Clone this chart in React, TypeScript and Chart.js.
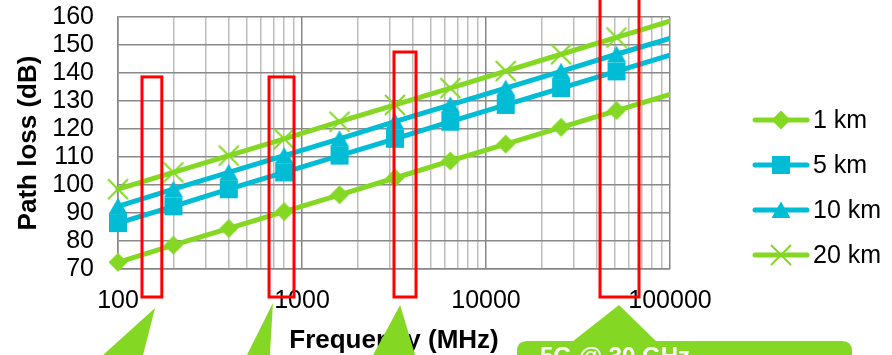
import React, { useEffect, useRef } from 'react';
import { Chart, registerables } from 'chart.js';

Chart.register(...registerables);

// ---- data ----
const frequencies = [100, 200, 400, 800, 1600, 3200, 6400, 12800, 25600, 51200, 100000];
const seriesNames = ['1 km', '5 km', '10 km', '20 km'];
const loss1km = [72.4, 78.5, 84.5, 90.5, 96.5, 102.5, 108.6, 114.6, 120.6, 126.6, 132.4];
const loss5km = [86.4, 92.4, 98.5, 104.5, 110.5, 116.5, 122.6, 128.6, 134.6, 140.6, 146.4];
const loss10km = [92.4, 98.5, 104.5, 110.5, 116.5, 122.6, 128.6, 134.6, 140.6, 146.7, 152.4];
const loss20km = [98.5, 104.5, 110.5, 116.5, 122.6, 128.6, 134.6, 140.7, 146.7, 152.7, 158.5];

const xTickValues = [
  100, 200, 300, 400, 500, 600, 700, 800, 900,
  1000, 2000, 3000, 4000, 5000, 6000, 7000, 8000, 9000,
  10000, 20000, 30000, 40000, 50000, 60000, 70000, 80000, 90000,
  100000,
];
const xTickLabels = ['100', '1000', '10000', '100000'];
const yMin = 70;
const yMax = 160;
const yStep = 10;

// highlighted frequency bands (MHz) and the dB level of their top edge
const bandLowMHz = [135, 662, 3162, 41650];
const bandHighMHz = [173, 905, 4165, 67850];
const bandTopDb = [138.6, 138.6, 147.5, 172];
// callout pointer tips (MHz)
const calloutTipMHz = [159, 695, 3414, 52800];
const calloutText = '5G @ 30 GHz';

const GREEN = '#84D824';
const CYAN = '#00BCD4';
const FONT = "'Liberation Sans', Arial, Helvetica, sans-serif";

type MarkerKind = 'diamond' | 'square' | 'triangle' | 'cross';

function makeMarker(kind: MarkerKind, color: string): HTMLCanvasElement {
  const c = document.createElement('canvas');
  const s = 24;
  c.width = s;
  c.height = s;
  const g = c.getContext('2d')!;
  g.fillStyle = color;
  g.strokeStyle = color;
  const m = s / 2;
  g.beginPath();
  if (kind === 'diamond') {
    g.moveTo(m, m - 9.5);
    g.lineTo(m + 9.5, m);
    g.lineTo(m, m + 9.5);
    g.lineTo(m - 9.5, m);
    g.closePath();
    g.fill();
  } else if (kind === 'square') {
    g.rect(m - 9, m - 9, 18, 18);
    g.fill();
  } else if (kind === 'triangle') {
    g.moveTo(m, m - 8.5);
    g.lineTo(m + 9.5, m + 8);
    g.lineTo(m - 9.5, m + 8);
    g.closePath();
    g.fill();
  } else {
    g.lineWidth = 2;
    g.moveTo(m - 10, m - 10);
    g.lineTo(m + 10, m + 10);
    g.moveTo(m + 10, m - 10);
    g.lineTo(m - 10, m + 10);
    g.stroke();
  }
  return c;
}

function isDecade(v: number) {
  const l = Math.log10(v);
  return Math.abs(l - Math.round(l)) < 1e-9;
}

export default function App() {
  const ref = useRef<HTMLCanvasElement | null>(null);

  useEffect(() => {
    if (!ref.current) return;
    const series = [loss1km, loss5km, loss10km, loss20km];
    const colors = [GREEN, CYAN, CYAN, GREEN];
    const kinds: MarkerKind[] = ['diamond', 'square', 'triangle', 'cross'];
    const markers = kinds.map((k, i) => makeMarker(k, colors[i]));
    const lastIdx = frequencies.length - 1;

    const datasets = series.map((vals, i) => ({
      label: seriesNames[i],
      data: frequencies.map((f, j) => ({ x: f, y: vals[j] })),
      borderColor: colors[i],
      backgroundColor: colors[i],
      borderWidth: 5,
      borderCapStyle: 'round' as const,
      borderJoinStyle: 'round' as const,
      pointStyle: markers[i],
      pointRadius: (ctx: any) => (ctx.dataIndex === lastIdx ? 0 : 9),
      pointHoverRadius: (ctx: any) => (ctx.dataIndex === lastIdx ? 0 : 9),
      tension: 0,
      order: 4 - i,
      clip: { left: 14, right: 0, top: 14, bottom: 14 },
    }));

    const overlay = {
      id: 'overlay',
      afterDraw(chart: any) {
        const { ctx, chartArea, scales } = chart;
        const xs = scales.x;
        const ys = scales.y;
        ctx.save();
        // red band rectangles
        ctx.strokeStyle = '#FF0000';
        ctx.lineWidth = 3;
        ctx.lineJoin = 'miter';
        const bandBottom = chartArea.bottom + 28;
        for (let i = 0; i < bandLowMHz.length; i++) {
          const x0 = xs.getPixelForValue(bandLowMHz[i]);
          const x1 = xs.getPixelForValue(bandHighMHz[i]);
          const y0 = ys.getPixelForValue(bandTopDb[i]);
          ctx.strokeRect(x0, y0, x1 - x0, bandBottom - y0);
        }
        // green callout pointers
        ctx.fillStyle = GREEN;
        const H = chart.height;
        const tipOff = [39, 34, 36, 36];
        const baseL = [-52, -26, -27, -47];
        const baseR = [-12, -3, 15, 38];
        for (let i = 0; i < calloutTipMHz.length; i++) {
          const tx = xs.getPixelForValue(calloutTipMHz[i]);
          const ty = chartArea.bottom + tipOff[i];
          const by = i === 3 ? chartArea.bottom + 73 : H;
          ctx.beginPath();
          ctx.moveTo(tx, ty);
          ctx.lineTo(tx + baseR[i], by);
          ctx.lineTo(tx + baseL[i], by);
          ctx.closePath();
          ctx.fill();
        }
        // 5G callout box
        const bx = 517;
        const by = chartArea.bottom + 72;
        const bw = 335;
        const bh = 80;
        const r = 10;
        ctx.beginPath();
        ctx.moveTo(bx + r, by);
        ctx.lineTo(bx + bw - r, by);
        ctx.quadraticCurveTo(bx + bw, by, bx + bw, by + r);
        ctx.lineTo(bx + bw, by + bh);
        ctx.lineTo(bx, by + bh);
        ctx.lineTo(bx, by + r);
        ctx.quadraticCurveTo(bx, by, bx + r, by);
        ctx.closePath();
        ctx.fill();
        ctx.fillStyle = '#FFFFFF';
        ctx.font = `bold 24px ${FONT}`;
        ctx.textAlign = 'left';
        ctx.textBaseline = 'alphabetic';
        ctx.fillText(calloutText, 540, by + 23);

        // legend
        ctx.font = `25px ${FONT}`;
        ctx.textBaseline = 'middle';
        ctx.lineCap = 'round';
        for (let i = 0; i < seriesNames.length; i++) {
          const iy = 120 + i * 45;
          ctx.strokeStyle = colors[i];
          ctx.lineWidth = 5;
          ctx.beginPath();
          ctx.moveTo(755, iy);
          ctx.lineTo(807, iy);
          ctx.stroke();
          ctx.drawImage(markers[i], 781 - markers[i].width / 2, iy - markers[i].height / 2);
          ctx.fillStyle = '#000';
          ctx.fillText(seriesNames[i], 813, iy + 1);
        }
        ctx.restore();
      },
    };

    const chart = new Chart(ref.current, {
      type: 'line',
      data: { datasets: datasets as any },
      options: {
        responsive: false,
        animation: false,
        devicePixelRatio: 1,
        parsing: false as any,
        layout: { autoPadding: false, padding: { top: 17, right: 222, bottom: 0, left: 0 } },
        plugins: {
          legend: { display: false },
          tooltip: { enabled: false },
        },
        scales: {
          x: {
            type: 'logarithmic',
            min: 100,
            max: 100000,
            afterBuildTicks: (s: any) => {
              s.ticks = xTickValues.map((v) => ({ value: v, major: isDecade(v) }));
            },
            afterFit: (s: any) => {
              s.height = 86;
              s.paddingLeft = 0;
              s.paddingRight = 0;
            },
            ticks: {
              autoSkip: false,
              maxRotation: 0,
              minRotation: 0,
              padding: 17,
              color: '#000',
              font: { size: 25, family: FONT },
              callback: (v: any) => (xTickLabels.includes(String(v)) ? String(v) : ''),
            },
            grid: {
              drawTicks: false,
              color: (c: any) => (c.tick && isDecade(c.tick.value) ? '#878787' : '#BDBDBD'),
              lineWidth: 1.5,
            },
            border: { color: '#878787', width: 1.5 },
            title: {
              display: true,
              text: 'Frequency (MHz)',
              color: '#000',
              font: { size: 26, weight: 'bold', family: FONT },
              padding: { top: 0, bottom: -1 },
            },
          },
          y: {
            type: 'linear',
            min: yMin,
            max: yMax,
            afterFit: (s: any) => {
              s.width = 118;
              s.paddingTop = 0;
              s.paddingBottom = 0;
            },
            ticks: {
              stepSize: yStep,
              autoSkip: false,
              padding: 24,
              color: '#000',
              font: { size: 25, family: FONT },
            },
            grid: { drawTicks: false, color: '#8A8A8A', lineWidth: 1.5 },
            border: { color: '#878787', width: 1.5 },
            title: {
              display: true,
              text: 'Path loss (dB)',
              color: '#000',
              font: { size: 26, weight: 'bold', family: FONT },
              padding: { top: 13, bottom: 0 },
            },
          },
        },
      } as any,
      plugins: [overlay],
    });
    return () => chart.destroy();
  }, []);

  return (
    <div style={{ position: 'absolute', left: 0, top: 0, width: 892, height: 355, background: '#fff' }}>
      <canvas ref={ref} width={892} height={355} style={{ display: 'block', width: 892, height: 355 }} />
    </div>
  );
}
